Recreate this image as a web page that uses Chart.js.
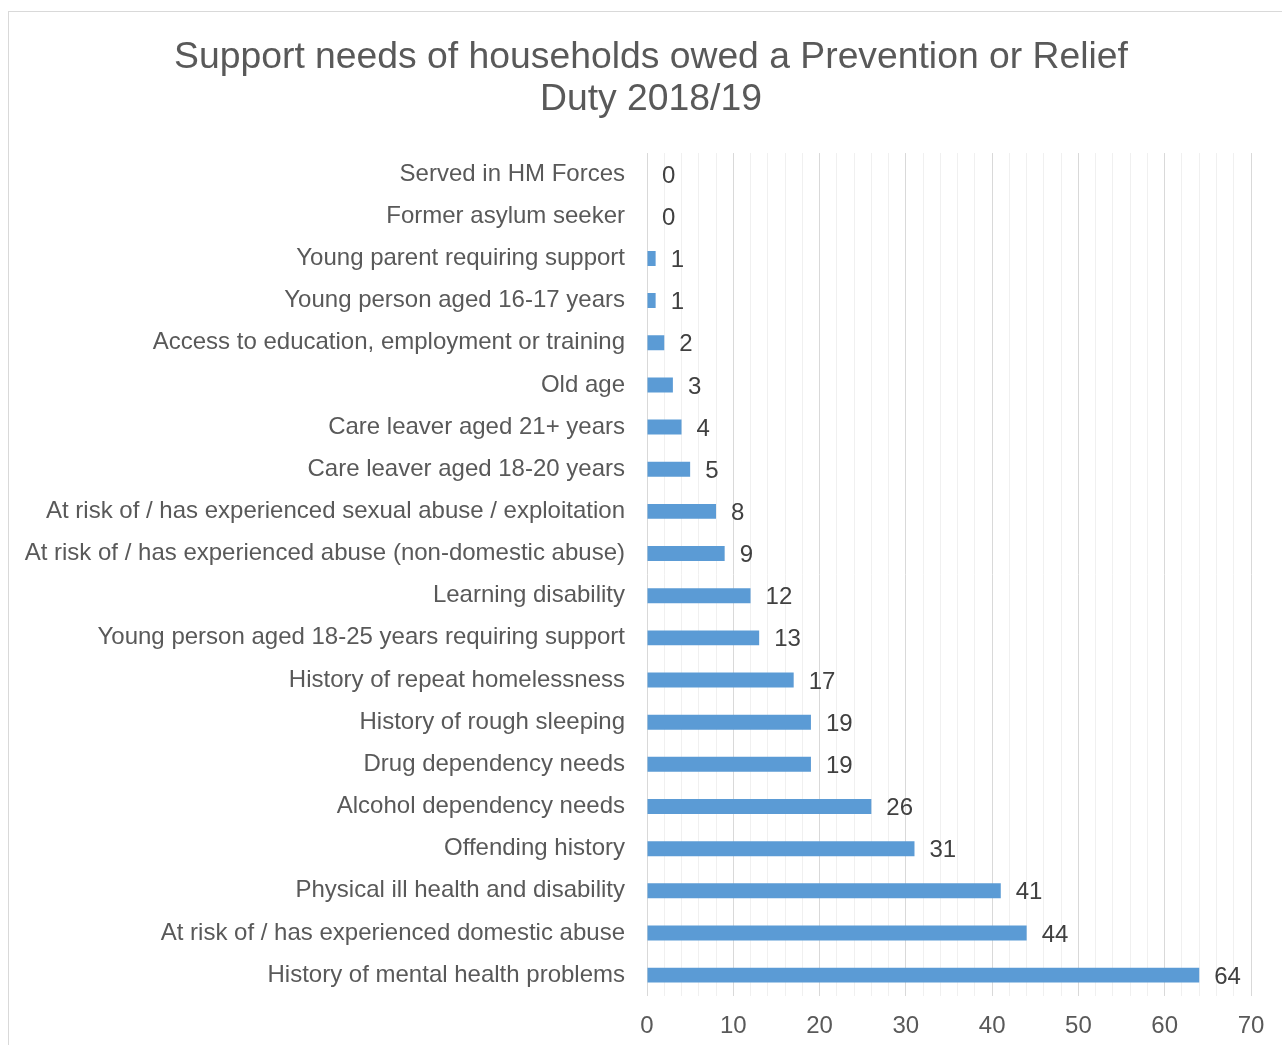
<!DOCTYPE html>
<html>
<head>
<meta charset="utf-8">
<script src="https://cdn.jsdelivr.net/npm/chart.js@4.4.1/dist/chart.umd.min.js"></script>
<style>
  html, body { margin: 0; padding: 0; background: #ffffff; overflow: hidden; width: 1282px; height: 1045px; }
  #wrap { position: absolute; left: 8px; top: 11px; width: 1286px; height: 1050px; border: 1px solid #d9d9d9; background: #fff; }
  canvas { display: block; }
</style>
</head>
<body>
<div id="wrap"><canvas id="chart"></canvas></div>
<script>
const titleLines = ['Support needs of households owed a Prevention or Relief', 'Duty 2018/19'];

const categories = [
  'Served in HM Forces',
  'Former asylum seeker',
  'Young parent requiring support',
  'Young person aged 16-17 years',
  'Access to education, employment or training',
  'Old age',
  'Care leaver aged 21+ years',
  'Care leaver aged 18-20 years',
  'At risk of / has experienced sexual abuse / exploitation',
  'At risk of / has experienced abuse (non-domestic abuse)',
  'Learning disability',
  'Young person aged 18-25 years requiring support',
  'History of repeat homelessness',
  'History of rough sleeping',
  'Drug dependency needs',
  'Alcohol dependency needs',
  'Offending history',
  'Physical ill health and disability',
  'At risk of / has experienced domestic abuse',
  'History of mental health problems'
];

const households = [0, 0, 1, 1, 2, 3, 4, 5, 8, 9, 12, 13, 17, 19, 19, 26, 31, 41, 44, 64];

const axisMin = 0;
const axisMax = 70;
const majorStep = 10;
const minorStep = 2;

const FONT = '"Liberation Sans", Arial, sans-serif';

// Writes each bar's value just past its end
const valueLabels = {
  id: 'valueLabels',
  afterDatasetsDraw(chart) {
    const ctx = chart.ctx;
    const meta = chart.getDatasetMeta(0);
    ctx.save();
    ctx.font = '24px ' + FONT;
    ctx.fillStyle = '#404040';
    ctx.textAlign = 'left';
    ctx.textBaseline = 'middle';
    meta.data.forEach((bar, i) => {
      const v = chart.data.datasets[0].data[i];
      ctx.fillText(String(v), bar.x + 15, bar.y + 2);
    });
    ctx.restore();
  }
};

// Centres the title on the whole canvas rather than on the padded box
const centreTitle = {
  id: 'centreTitle',
  afterLayout(chart) {
    if (chart.titleBlock) {
      chart.titleBlock.left = 0;
      chart.titleBlock.right = chart.width;
    }
  }
};

const canvas = document.getElementById('chart');
canvas.width = 1284;
canvas.height = 1045;
canvas.style.width = '1284px';
canvas.style.height = '1045px';

new Chart(canvas, {
  type: 'bar',
  data: {
    labels: categories,
    datasets: [{
      data: households,
      backgroundColor: '#5b9bd5',
      borderWidth: 0,
      categoryPercentage: 1,
      barPercentage: 0.355
    }]
  },
  options: {
    indexAxis: 'y',
    responsive: false,
    animation: false,
    devicePixelRatio: 1,
    layout: { padding: { top: 10, right: 42, bottom: 0, left: 0 } },
    plugins: {
      legend: { display: false },
      tooltip: { enabled: false },
      title: {
        display: true,
        text: titleLines,
        color: '#595959',
        font: { family: FONT, size: 37.3, weight: 'normal', lineHeight: 1.14 },
        padding: { top: 14, bottom: 32 }
      }
    },
    scales: {
      x: {
        min: axisMin,
        max: axisMax,
        position: 'bottom',
        border: { display: false },
        grid: {
          drawTicks: false,
          lineWidth: 1,
          color: (c) => (c.tick && c.tick.value % majorStep === 0) ? '#d9d9d9' : '#f0f0f0'
        },
        ticks: {
          stepSize: minorStep,
          autoSkip: false,
          maxRotation: 0,
          padding: 16,
          color: '#595959',
          font: { family: FONT, size: 24 },
          callback: (v) => (v % majorStep === 0 ? String(v) : '')
        }
      },
      y: {
        border: { display: false },
        grid: { display: false, drawTicks: false },
        afterFit: (axis) => { axis.width = 638; },
        ticks: {
          padding: 22,
          autoSkip: false,
          color: '#595959',
          font: { family: FONT, size: 24 }
        }
      }
    }
  },
  plugins: [valueLabels, centreTitle]
});
</script>
</body>
</html>
